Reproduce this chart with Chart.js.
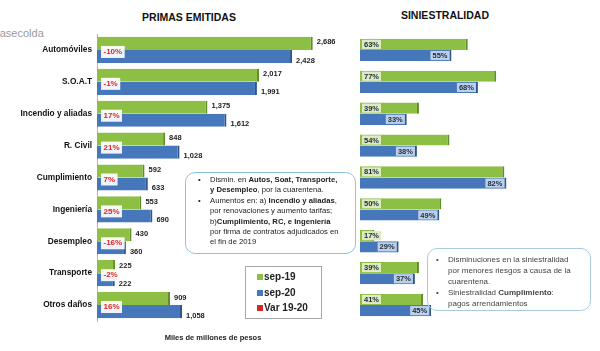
<!DOCTYPE html>
<html>
<head>
<meta charset="utf-8">
<script src="https://cdn.jsdelivr.net/npm/chart.js@4.4.1/dist/chart.umd.min.js"></script>
<style>
  body { margin: 0; background: #fff; }
  #wrap { position: relative; width: 600px; height: 351px; overflow: hidden; background: #fff;
          font-family: "Liberation Sans", Arial, sans-serif; }
  canvas { position: absolute; top: 0; }
  .ttl { position: absolute; font-weight: bold; font-size: 10.5px; color: #111; white-space: nowrap;
         transform: translateX(-50%); }
  .src { position: absolute; left: -7px; top: 27px; font-size: 11px; color: #9a9a9a; }
  .axt { position: absolute; left: 213px; top: 333px; transform: translateX(-50%); font-size: 7.5px;
         font-weight: bold; color: #222; white-space: nowrap; }
  .note { position: absolute; box-sizing: border-box; border-radius: 10px; white-space: nowrap; }
  .note .it { position: relative; }
  .note .it::before { content: "\2022"; position: absolute; }
  #n1 { left: 185px; top: 172px; width: 171px; height: 82px; border: 1.5px solid #8ec3df;
        padding: 2px 0 0 24px; font-size: 7.7px; line-height: 10.4px; color: #222; }
  #n1 .it::before { left: -12px; }
  #n2 { left: 427px; top: 248px; width: 164px; height: 63px; border: 1.5px solid #a9cbe0;
        padding: 5px 0 0 20px; font-size: 8px; line-height: 11px; color: #444; }
  #n2 .it::before { left: -12px; }
  #legend { position: absolute; left: 245px; top: 266px; width: 77px; height: 53px; box-sizing: border-box;
            border: 1px solid #a8a8a8; padding: 2px 0 0 11px; font-weight: bold; font-size: 10px;
            line-height: 15.5px; color: #222; }
  #legend span { display: inline-block; width: 6px; height: 6px; margin-right: 1px; }
</style>
</head>
<body>
<div id="wrap">
  <div class="src">Fasecolda</div>
  <div class="ttl" style="left:189px;top:11px;">PRIMAS EMITIDAS</div>
  <div class="ttl" style="left:445px;top:9px;">SINIESTRALIDAD</div>
  <canvas id="primas" width="345" height="351" style="left:0"></canvas>
  <canvas id="sini" width="255" height="351" style="left:345px"></canvas>
  <div class="axt">Miles de millones de pesos</div>
  <div class="note" id="n1">
    <div class="it">Dismin. en <b>Autos, Soat, Transporte,</b></div>
    <div><b>y Desempleo</b>, por la cuarentena.</div>
    <div class="it">Aumentos en: a) <b>Incendio y aliadas</b>,</div>
    <div>por renovaciones y aumento tarifas;</div>
    <div>b)<b>Cumplimiento, RC, e Ingeniería</b></div>
    <div>por firma de contratos adjudicados en</div>
    <div>el fin de 2019</div>
  </div>
  <div class="note" id="n2">
    <div class="it">Disminuciones en la siniestralidad</div>
    <div>por menores riesgos a causa de la</div>
    <div>cuarentena.</div>
    <div class="it">Siniestralidad <b>Cumplimiento</b>:</div>
    <div>pagos arrendamientos</div>
  </div>
  <div id="legend">
    <div><span style="background:#8dbf45"></span>sep-19</div>
    <div><span style="background:#4677bb"></span>sep-20</div>
    <div><span style="background:#d62628"></span>Var 19-20</div>
  </div>
</div>
<script>
const ramos = ['Automóviles', 'S.O.A.T', 'Incendio y aliadas', 'R. Civil', 'Cumplimiento',
               'Ingeniería', 'Desempleo', 'Transporte', 'Otros daños'];
const primasSep19 = [2686, 2017, 1375, 848, 592, 553, 430, 225, 909];
const primasSep20 = [2428, 1991, 1612, 1028, 633, 690, 360, 222, 1058];
const varPrimas = [-10, -1, 17, 21, 7, 25, -16, -2, 16];
const siniSep19 = [63, 77, 39, 54, 81, 50, 17, 39, 41];
const siniSep20 = [55, 68, 33, 38, 82, 49, 29, 37, 45];

const verde = '#8dbf45';
const azul = '#4677bb';
const fuente = '"Liberation Sans", Arial, sans-serif';

// etiquetas de valores en primas
const primasLabels = {
  id: 'primasLabels',
  afterDatasetsDraw(chart) {
    const ctx = chart.ctx;
    ctx.save();
    ctx.font = 'bold 7.5px ' + fuente;
    ctx.textBaseline = 'middle';
    chart.data.datasets.forEach((ds, di) => {
      chart.getDatasetMeta(di).data.forEach((bar, i) => {
        ctx.fillStyle = '#222';
        ctx.fillText(ds.data[i].toLocaleString('en-US'), bar.x + 4, bar.y + (di === 0 ? -1 : 4));
      });
    });
    ctx.font = 'bold 8px ' + fuente;
    varPrimas.forEach((v, i) => {
      const cy = chart.scales.y.getPixelForValue(i) + 2;
      const t = v + '%';
      const x0 = chart.chartArea.left + 4;
      const w = ctx.measureText(t).width + 5;
      ctx.fillStyle = 'rgba(255,255,255,0.92)';
      ctx.fillRect(x0, cy - 6, w, 12);
      ctx.fillStyle = '#e2262b';
      ctx.fillText(t, x0 + 2.5, cy);
    });
    ctx.restore();
  }
};

// etiquetas de siniestralidad dentro de las barras
const siniLabels = {
  id: 'siniLabels',
  afterDatasetsDraw(chart) {
    const ctx = chart.ctx;
    ctx.save();
    ctx.font = 'bold 7.5px ' + fuente;
    ctx.textBaseline = 'middle';
    chart.data.datasets.forEach((ds, di) => {
      chart.getDatasetMeta(di).data.forEach((bar, i) => {
        const t = ds.data[i] + '%';
        const w = ctx.measureText(t).width + 4;
        const h = bar.height - 2;
        const x0 = di === 0 ? chart.chartArea.left + 2 : bar.x - w - 2;
        ctx.fillStyle = di === 0 ? '#dcebc0' : '#bcd0ea';
        ctx.fillRect(x0, bar.y - h / 2, w, h);
        ctx.fillStyle = '#1d2a3a';
        ctx.fillText(t, x0 + 2, bar.y + 0.5);
      });
    });
    ctx.restore();
  }
};

new Chart(document.getElementById('primas'), {
  type: 'bar',
  data: {
    labels: ramos,
    datasets: [
      { label: 'sep-19', data: primasSep19, backgroundColor: verde, borderColor: '#5f8d2a',
        borderWidth: { right: 2, top: 0, bottom: 0, left: 0 }, borderSkipped: false },
      { label: 'sep-20', data: primasSep20, backgroundColor: azul, borderColor: '#2d568f',
        borderWidth: { right: 2, top: 0, bottom: 0, left: 0 }, borderSkipped: false }
    ]
  },
  options: {
    indexAxis: 'y',
    responsive: false,
    animation: false,
    categoryPercentage: 0.82,
    barPercentage: 1.0,
    layout: { padding: { top: 34, bottom: 30, left: 0, right: 7 } },
    plugins: { legend: { display: false }, tooltip: { enabled: false } },
    scales: {
      x: { display: false, min: 0, max: 3000 },
      y: {
        grid: { display: false, drawTicks: false },
        border: { display: true, color: '#b5b5b5', width: 1 },
        ticks: { color: '#111', padding: 5, font: { size: 8.3, weight: 'bold', family: fuente } },
        afterFit(scale) { scale.width = 97; }
      }
    }
  },
  plugins: [primasLabels]
});

new Chart(document.getElementById('sini'), {
  type: 'bar',
  data: {
    labels: ramos,
    datasets: [
      { label: 'sep-19', data: siniSep19, backgroundColor: verde, borderColor: '#5f8d2a',
        borderWidth: { right: 2, top: 0, bottom: 0, left: 0 }, borderSkipped: false },
      { label: 'sep-20', data: siniSep20, backgroundColor: azul, borderColor: '#2d568f',
        borderWidth: { right: 2, top: 0, bottom: 0, left: 0 }, borderSkipped: false }
    ]
  },
  options: {
    indexAxis: 'y',
    responsive: false,
    animation: false,
    categoryPercentage: 0.7,
    barPercentage: 1.0,
    layout: { padding: { top: 34, bottom: 30, left: 15, right: 57 } },
    plugins: { legend: { display: false }, tooltip: { enabled: false } },
    scales: {
      x: { display: false, min: 10, max: 100 },
      y: { display: false }
    }
  },
  plugins: [siniLabels]
});
</script>
</body>
</html>
